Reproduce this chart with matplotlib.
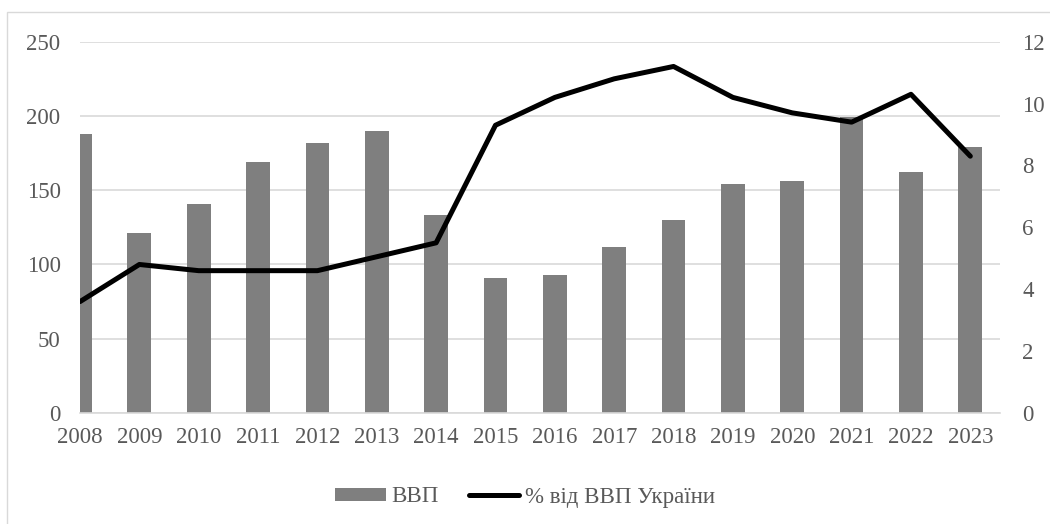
import numpy as np
import matplotlib.pyplot as plt
from matplotlib.patches import Rectangle

plt.rcParams['font.family'] = ['Liberation Serif', 'DejaVu Serif']

# дані
years = ['2008', '2009', '2010', '2011', '2012', '2013', '2014', '2015',
         '2016', '2017', '2018', '2019', '2020', '2021', '2022', '2023']
gdp = [188, 121, 141, 169, 182, 190, 133, 91, 93, 112, 130, 154, 156, 199, 162, 179]
share = [3.6, 4.8, 4.6, 4.6, 4.6, 5.05, 5.5, 9.3, 10.2, 10.8, 11.2, 10.2, 9.7, 9.4, 10.3, 8.3]

txt_color = '#595959'
fs = 16.5
fam = 'Liberation Serif'

fig = plt.figure(figsize=(10.5, 5.24), dpi=100)
# рамка діаграми
fig.patches.append(Rectangle((7 / 1050, -0.05), 1.1, 1 - 12 / 524 + 0.05,
                             transform=fig.transFigure, fill=False,
                             edgecolor='#d9d9d9', linewidth=1))

ax = fig.add_axes([80 / 1050, 1 - 413 / 524, 920 / 1050, (413 - 41.7) / 524])
x = np.arange(len(years))
bars = ax.bar(x, gdp, width=0.4, color='#7f7f7f', label='ВВП', zorder=2)
ax.set_ylim(0, 250)
ax.set_xlim(0, 15.5)
ax.set_yticks(np.arange(0, 251, 50))
ax.set_xticks(x)
ax.set_xticklabels(years)
ax.yaxis.grid(True, color='#d9d9d9', linewidth=1.2, zorder=0)
ax.set_axisbelow(True)
for s in ['top', 'right', 'left']:
    ax.spines[s].set_visible(False)
ax.spines['bottom'].set_color('#d9d9d9')
ax.spines['bottom'].set_linewidth(1.2)
ax.tick_params(axis='both', length=0, labelsize=fs, labelcolor=txt_color)
ax.tick_params(axis='y', pad=14)
ax.tick_params(axis='x', pad=10)

ax2 = ax.twinx()
line, = ax2.plot(x, share, color='black', linewidth=3.6,
                 solid_capstyle='round', solid_joinstyle='round',
                 label='% від ВВП України', zorder=3)
ax2.set_ylim(0, 12)
ax2.set_yticks(np.arange(0, 13, 2))
for s in ['top', 'right', 'left', 'bottom']:
    ax2.spines[s].set_visible(False)
ax2.tick_params(axis='y', length=0, labelsize=fs, labelcolor=txt_color, pad=16)

for lab in ax.get_xticklabels() + ax.get_yticklabels() + ax2.get_yticklabels():
    lab.set_fontfamily(fam)

leg = fig.legend([bars, line], ['ВВП', '% від ВВП України'],
                 loc='center', bbox_to_anchor=(525 / 1050, 1 - 497 / 524),
                 ncol=2, frameon=False, prop={'family': fam, 'size': fs},
                 handlelength=2.2, handleheight=0.5, handletextpad=0.25,
                 columnspacing=1.3)
for t in leg.get_texts():
    t.set_color(txt_color)

plt.savefig('out.png', dpi=100)
